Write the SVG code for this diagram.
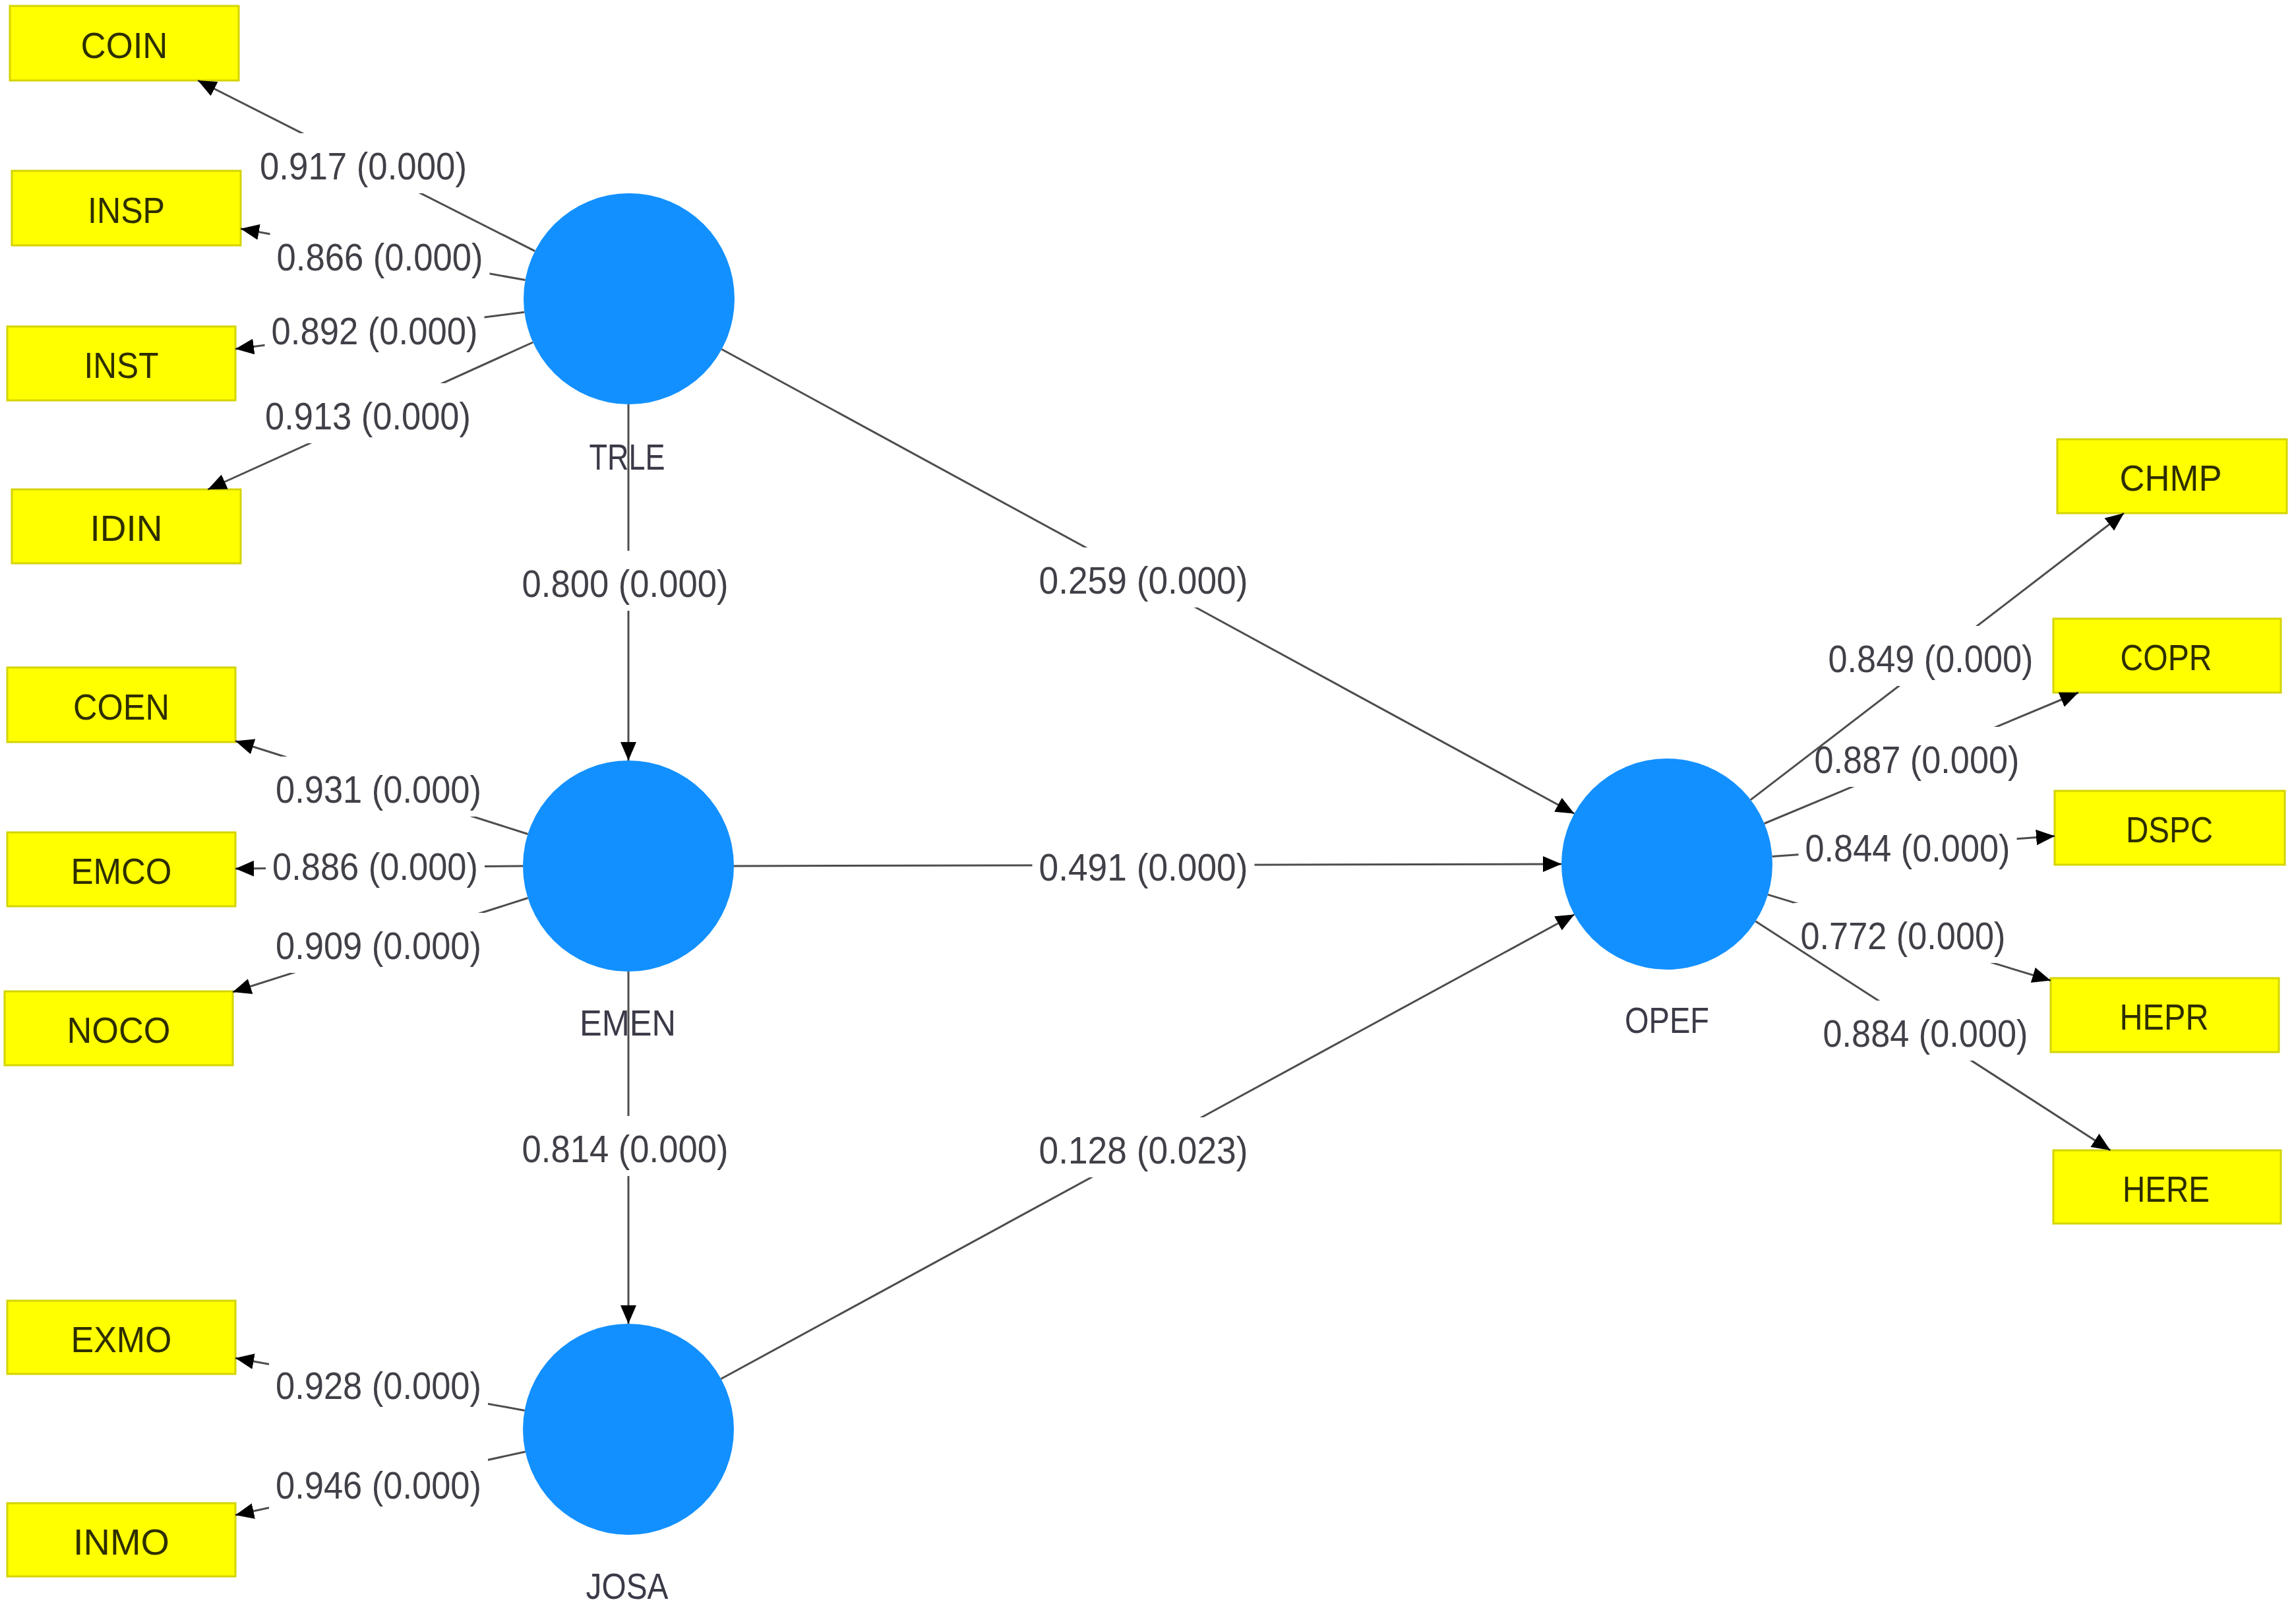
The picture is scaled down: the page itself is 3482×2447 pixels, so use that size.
<svg xmlns="http://www.w3.org/2000/svg" width="3482" height="2447" viewBox="0 0 3482 2447">
<style>
.box{fill:#ffff00;stroke:#d4d400;stroke-width:3}
.lv{fill:#1290ff}
.bt{font-family:"Liberation Sans",Arial,sans-serif;font-size:56px;fill:#2e2e00;text-anchor:middle}
.nt{font-family:"Liberation Sans",Arial,sans-serif;font-size:56px;fill:#3a3a48;text-anchor:middle}
.ct{font-family:"Liberation Sans",Arial,sans-serif;font-size:58px;fill:#404048;text-anchor:middle}
.cl{stroke:#4d4d4d;stroke-width:3;fill:none;marker-end:url(#ah)}
.bg{fill:#ffffff}
</style>
<defs>
<marker id="ah" markerUnits="userSpaceOnUse" markerWidth="28" markerHeight="24" refX="28" refY="12" orient="auto">
<path d="M0,0 L28,12 L0,24 z" fill="#000"/>
</marker>
</defs>
<rect width="3482" height="2447" fill="#ffffff"/>
<g id="nodes">
<g id="COIN"><rect class="box" x="15" y="9" width="347" height="113"/><text class="bt" x="188.5" y="87.5" textLength="132" lengthAdjust="spacingAndGlyphs">COIN</text></g>
<g id="INSP"><rect class="box" x="18" y="259" width="347" height="113"/><text class="bt" x="191.5" y="337.5" textLength="117" lengthAdjust="spacingAndGlyphs">INSP</text></g>
<g id="INST"><rect class="box" x="11" y="495" width="346" height="112"/><text class="bt" x="184" y="573" textLength="113" lengthAdjust="spacingAndGlyphs">INST</text></g>
<g id="IDIN"><rect class="box" x="18" y="742" width="347" height="112"/><text class="bt" x="191.5" y="820" textLength="110" lengthAdjust="spacingAndGlyphs">IDIN</text></g>
<g id="COEN"><rect class="box" x="11" y="1012" width="346" height="113"/><text class="bt" x="184" y="1090.5" textLength="146" lengthAdjust="spacingAndGlyphs">COEN</text></g>
<g id="EMCO"><rect class="box" x="11" y="1262" width="346" height="112"/><text class="bt" x="184" y="1340" textLength="153" lengthAdjust="spacingAndGlyphs">EMCO</text></g>
<g id="NOCO"><rect class="box" x="7" y="1503" width="346" height="112"/><text class="bt" x="180" y="1581" textLength="157" lengthAdjust="spacingAndGlyphs">NOCO</text></g>
<g id="EXMO"><rect class="box" x="11" y="1972" width="346" height="111"/><text class="bt" x="184" y="2049.5" textLength="153" lengthAdjust="spacingAndGlyphs">EXMO</text></g>
<g id="INMO"><rect class="box" x="11" y="2279" width="346" height="111"/><text class="bt" x="184" y="2356.5" textLength="146" lengthAdjust="spacingAndGlyphs">INMO</text></g>
<g id="CHMP"><rect class="box" x="3120" y="666" width="348" height="112"/><text class="bt" x="3292" y="744" textLength="155" lengthAdjust="spacingAndGlyphs">CHMP</text></g>
<g id="COPR"><rect class="box" x="3114" y="938" width="345" height="112"/><text class="bt" x="3285" y="1016" textLength="139" lengthAdjust="spacingAndGlyphs">COPR</text></g>
<g id="DSPC"><rect class="box" x="3116" y="1199" width="349" height="112"/><text class="bt" x="3290" y="1277" textLength="132" lengthAdjust="spacingAndGlyphs">DSPC</text></g>
<g id="HEPR"><rect class="box" x="3110" y="1483" width="346" height="112"/><text class="bt" x="3282" y="1561" textLength="135" lengthAdjust="spacingAndGlyphs">HEPR</text></g>
<g id="HERE"><rect class="box" x="3114" y="1744" width="345" height="111"/><text class="bt" x="3285" y="1821.5" textLength="132" lengthAdjust="spacingAndGlyphs">HERE</text></g>
<g id="TRLE"><circle class="lv" cx="954" cy="453" r="160"/><text class="nt" x="951" y="712" textLength="115" lengthAdjust="spacingAndGlyphs">TRLE</text></g>
<g id="EMEN"><circle class="lv" cx="953" cy="1313" r="160"/><text class="nt" x="952" y="1570" textLength="146" lengthAdjust="spacingAndGlyphs">EMEN</text></g>
<g id="JOSA"><circle class="lv" cx="953" cy="2167" r="160"/><text class="nt" x="951" y="2424" textLength="125" lengthAdjust="spacingAndGlyphs">JOSA</text></g>
<g id="OPEF"><circle class="lv" cx="2528" cy="1310" r="160"/><text class="nt" x="2528" y="1566" textLength="128" lengthAdjust="spacingAndGlyphs">OPEF</text></g>
</g>
<g id="connectors">
<g id="e-TRLE-INSP"><line class="cl" x1="796.5" y1="424.6" x2="365" y2="346.8"/><rect class="bg" x="409.5" y="340" width="333" height="91"/><text class="ct" x="576" y="410" textLength="313" lengthAdjust="spacingAndGlyphs">0.866 (0.000)</text></g>
<g id="e-TRLE-COIN"><line class="cl" x1="811.2" y1="380.7" x2="300.1" y2="122"/><rect class="bg" x="384" y="202" width="334" height="91"/><text class="ct" x="551" y="272" textLength="314" lengthAdjust="spacingAndGlyphs">0.917 (0.000)</text></g>
<g id="e-TRLE-INST"><line class="cl" x1="795.3" y1="473.2" x2="357" y2="529"/><rect class="bg" x="401.5" y="452" width="333" height="91"/><text class="ct" x="568" y="522" textLength="313" lengthAdjust="spacingAndGlyphs">0.892 (0.000)</text></g>
<g id="e-TRLE-IDIN"><line class="cl" x1="808.2" y1="519" x2="315.3" y2="742"/><rect class="bg" x="392" y="581" width="332" height="91"/><text class="ct" x="558" y="651" textLength="312" lengthAdjust="spacingAndGlyphs">0.913 (0.000)</text></g>
<g id="e-EMEN-COEN"><line class="cl" x1="800.5" y1="1264.5" x2="357" y2="1123.5"/><rect class="bg" x="408" y="1147" width="332" height="91"/><text class="ct" x="574" y="1217" textLength="312" lengthAdjust="spacingAndGlyphs">0.931 (0.000)</text></g>
<g id="e-EMEN-EMCO"><line class="cl" x1="793" y1="1313" x2="357" y2="1317"/><rect class="bg" x="403" y="1264" width="332" height="91"/><text class="ct" x="569" y="1334" textLength="312" lengthAdjust="spacingAndGlyphs">0.886 (0.000)</text></g>
<g id="e-EMEN-NOCO"><line class="cl" x1="800.5" y1="1361.5" x2="353" y2="1504"/><rect class="bg" x="408" y="1384" width="332" height="91"/><text class="ct" x="574" y="1454" textLength="312" lengthAdjust="spacingAndGlyphs">0.909 (0.000)</text></g>
<g id="e-JOSA-EXMO"><line class="cl" x1="795.6" y1="2138.4" x2="357" y2="2059"/><rect class="bg" x="408" y="2051" width="332" height="91"/><text class="ct" x="574" y="2121" textLength="312" lengthAdjust="spacingAndGlyphs">0.928 (0.000)</text></g>
<g id="e-JOSA-INMO"><line class="cl" x1="796.7" y1="2201" x2="357" y2="2297"/><rect class="bg" x="408" y="2202" width="332" height="91"/><text class="ct" x="574" y="2272" textLength="312" lengthAdjust="spacingAndGlyphs">0.946 (0.000)</text></g>
<g id="e-TRLE-EMEN"><line class="cl" x1="953" y1="613" x2="953" y2="1153"/><rect class="bg" x="781.5" y="835" width="333" height="91"/><text class="ct" x="948" y="905" textLength="313" lengthAdjust="spacingAndGlyphs">0.800 (0.000)</text></g>
<g id="e-EMEN-JOSA"><line class="cl" x1="953" y1="1473" x2="953" y2="2007"/><rect class="bg" x="781.5" y="1692" width="333" height="91"/><text class="ct" x="948" y="1762" textLength="313" lengthAdjust="spacingAndGlyphs">0.814 (0.000)</text></g>
<g id="e-TRLE-OPEF"><line class="cl" x1="1094.5" y1="529.5" x2="2387.5" y2="1233.5"/><rect class="bg" x="1565.5" y="830" width="337" height="91"/><text class="ct" x="1734" y="900" textLength="317" lengthAdjust="spacingAndGlyphs">0.259 (0.000)</text></g>
<g id="e-EMEN-OPEF"><line class="cl" x1="1113" y1="1313" x2="2368" y2="1310"/><rect class="bg" x="1565.5" y="1265" width="337" height="91"/><text class="ct" x="1734" y="1335" textLength="317" lengthAdjust="spacingAndGlyphs">0.491 (0.000)</text></g>
<g id="e-JOSA-OPEF"><line class="cl" x1="1093.5" y1="2090.5" x2="2387.5" y2="1386.5"/><rect class="bg" x="1565.5" y="1694" width="337" height="91"/><text class="ct" x="1734" y="1764" textLength="317" lengthAdjust="spacingAndGlyphs">0.128 (0.023)</text></g>
<g id="e-OPEF-DSPC"><line class="cl" x1="2687.6" y1="1298.5" x2="3116" y2="1267.6"/><rect class="bg" x="2727.5" y="1236" width="331" height="91"/><text class="ct" x="2893" y="1306" textLength="311" lengthAdjust="spacingAndGlyphs">0.844 (0.000)</text></g>
<g id="e-OPEF-HEPR"><line class="cl" x1="2681.1" y1="1356.4" x2="3110" y2="1486.5"/><rect class="bg" x="2720.5" y="1369" width="331" height="91"/><text class="ct" x="2886" y="1439" textLength="311" lengthAdjust="spacingAndGlyphs">0.772 (0.000)</text></g>
<g id="e-OPEF-COPR"><line class="cl" x1="2675.7" y1="1248.5" x2="3152" y2="1050"/><rect class="bg" x="2741.5" y="1102" width="331" height="91"/><text class="ct" x="2907" y="1172" textLength="311" lengthAdjust="spacingAndGlyphs">0.887 (0.000)</text></g>
<g id="e-OPEF-CHMP"><line class="cl" x1="2654.9" y1="1212.6" x2="3221" y2="778"/><rect class="bg" x="2762.5" y="949" width="331" height="91"/><text class="ct" x="2928" y="1019" textLength="311" lengthAdjust="spacingAndGlyphs">0.849 (0.000)</text></g>
<g id="e-OPEF-HERE"><line class="cl" x1="2662.4" y1="1396.8" x2="3200.5" y2="1744"/><rect class="bg" x="2754.5" y="1517" width="331" height="91"/><text class="ct" x="2920" y="1587" textLength="311" lengthAdjust="spacingAndGlyphs">0.884 (0.000)</text></g>
</g>
</svg>
